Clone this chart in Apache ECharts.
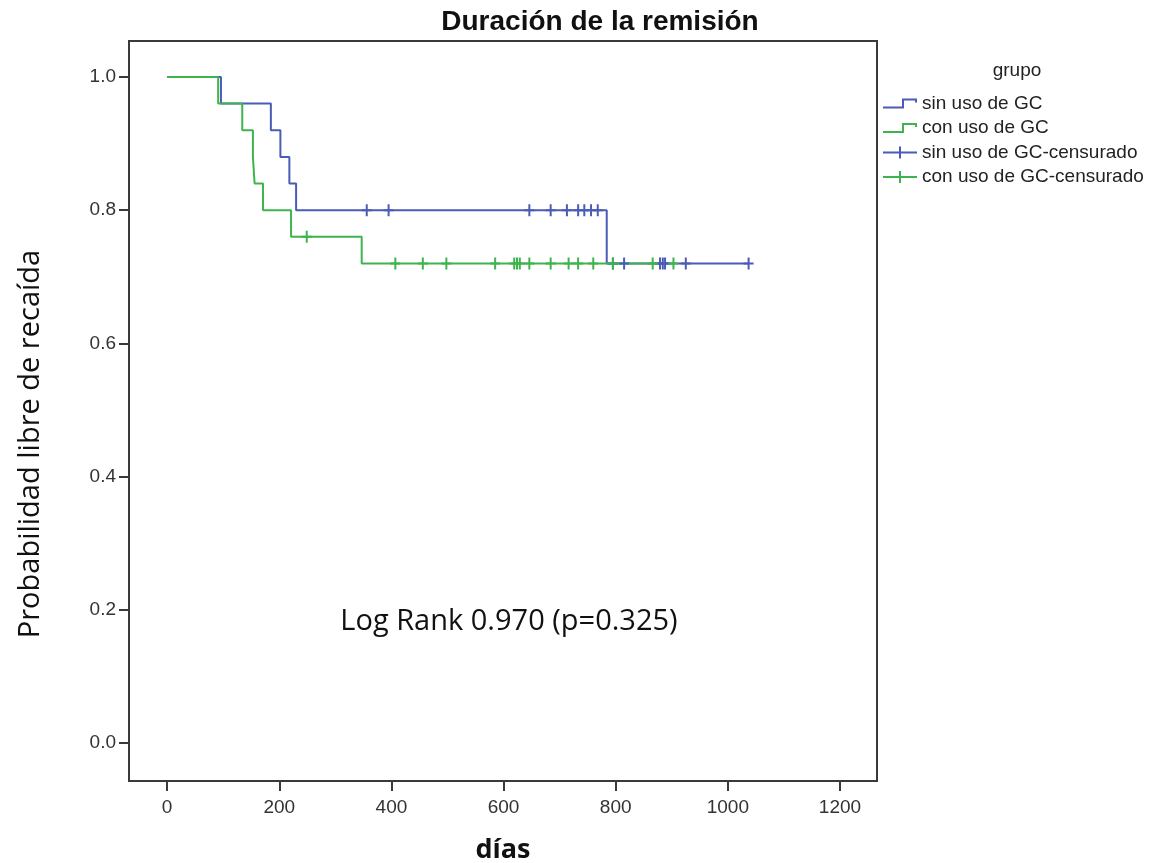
<!DOCTYPE html>
<html>
<head>
<meta charset="utf-8">
<script src="https://cdn.jsdelivr.net/npm/echarts@6/dist/echarts.min.js"></script>
<style>
  html, body { margin: 0; padding: 0; background: #ffffff; }
  #chart { width: 1159px; height: 863px; }
</style>
</head>
<body>
<div id="chart"></div>
<script>
// ---- Data (Kaplan-Meier curves) ----
// "sin uso de GC": event times (days) and survival after each step
const blueTimes = [0, 96, 185, 202, 218, 230, 784, 1037];
const blueSurv  = [1.0, 0.96, 0.92, 0.88, 0.84, 0.80, 0.72, 0.72];
const blueCensored = [356, 395, 646, 684, 713, 733, 744, 756, 768, 795, 815, 879, 884, 888, 925, 1037];

// "con uso de GC"
const greenTimes = [0, 91, 134, 153, 156, 171, 221, 347, 903];
const greenSurv  = [1.0, 0.96, 0.92, 0.88, 0.84, 0.80, 0.76, 0.72, 0.72];
const greenCensored = [249, 407, 456, 498, 585, 619, 624, 629, 646, 684, 716, 733, 760, 795, 866, 903];

const xTicks = [0, 200, 400, 600, 800, 1000, 1200];
const yTicks = [0.0, 0.2, 0.4, 0.6, 0.8, 1.0];

const seriesNames = ['sin uso de GC', 'con uso de GC', 'sin uso de GC-censurado', 'con uso de GC-censurado'];
const chartTitle = 'Duración de la remisión';
const xName = 'días';
const yName = 'Probabilidad libre de recaída';
const legendTitle = 'grupo';
const annotation = 'Log Rank 0.970 (p=0.325)';

// ---- helpers ----
function pairs(ts, ss) { return ts.map((t, i) => [t, ss[i]]); }
function survAt(ts, ss, t) {
  let v = ss[0];
  for (let i = 0; i < ts.length; i++) { if (ts[i] <= t) v = ss[i]; }
  return v;
}
function censorPoints(cs, ts, ss) { return cs.map(t => [t, survAt(ts, ss, t)]); }

const BLUE = '#4B5CB6';
const GREEN = '#3FB44E';
const plusPath = 'path://M0,5 H4 V0 H6 V5 H10 V7 H6 V12 H4 V7 H0 Z';
const stepIcon = 'path://M0,9 H19 V1 H34 V5 H32 V3 H21 V11 H0 Z M0,0 H0.01 V12 H0 Z';
const crossIcon = 'path://M0,5 H16 V0 H18 V5 H34 V7 H18 V12 H16 V7 H0 Z';

const chart = echarts.init(document.getElementById('chart'), null, { renderer: 'canvas' });

const option = {
  backgroundColor: '#ffffff',
  animation: false,
  title: [
    {
      text: chartTitle,
      left: 595, top: 3, textAlign: 'center',
      textStyle: { fontFamily: 'Liberation Sans, Arial, sans-serif', fontWeight: 'bold', fontSize: 28, color: '#111' }
    },
    {
      text: legendTitle,
      left: 1012, top: 56, textAlign: 'center',
      textStyle: { fontFamily: 'Liberation Sans, Arial, sans-serif', fontWeight: 'normal', fontSize: 19, color: '#222' }
    }
  ],
  grid: {
    left: 129, top: 41, width: 748, height: 740,
    containLabel: false, outerBoundsMode: 'none',
    show: true, borderColor: '#3a3a3a', borderWidth: 2, backgroundColor: '#ffffff'
  },
  legend: {
    orient: 'vertical', left: 878, top: 89,
    itemWidth: 34, itemHeight: 12, itemGap: 5.5,
    selectedMode: false,
    itemStyle: { borderWidth: 0, opacity: 1 },
    textStyle: { fontFamily: 'Liberation Sans, Arial, sans-serif', fontSize: 19, color: '#222' },
    data: [
      { name: seriesNames[0], icon: stepIcon },
      { name: seriesNames[1], icon: stepIcon },
      { name: seriesNames[2], icon: crossIcon },
      { name: seriesNames[3], icon: crossIcon }
    ]
  },
  xAxis: {
    type: 'value', min: -68, max: 1266,
    name: xName, nameLocation: 'middle', nameGap: 56,
    nameTextStyle: { fontFamily: 'Open Sans, sans-serif', fontWeight: 'bold', fontSize: 27, color: '#111' },
    axisLine: { show: true, onZero: false, lineStyle: { color: '#3a3a3a', width: 2 } },
    axisTick: { show: true, customValues: xTicks, length: 10, lineStyle: { color: '#3a3a3a', width: 2 } },
    axisLabel: { customValues: xTicks, margin: 17, fontFamily: 'Liberation Sans, Arial, sans-serif', fontSize: 19, color: '#333',
      formatter: v => String(Math.round(v)) },
    splitLine: { show: false }
  },
  yAxis: {
    type: 'value', min: -0.057, max: 1.054,
    name: yName, nameLocation: 'middle', nameGap: 84, nameRotate: 90,
    nameTextStyle: { fontFamily: 'Open Sans, sans-serif', fontSize: 29, color: '#111', padding: [0, 66, 0, 0] },
    axisLine: { show: true, onZero: false, lineStyle: { color: '#3a3a3a', width: 2 } },
    axisTick: { show: true, customValues: yTicks, length: 10, lineStyle: { color: '#3a3a3a', width: 2 } },
    axisLabel: { customValues: yTicks, margin: 13, fontFamily: 'Liberation Sans, Arial, sans-serif', fontSize: 19, color: '#333',
      formatter: v => Number(v).toFixed(1) },
    splitLine: { show: false }
  },
  graphic: [
    {
      type: 'text', x: 509, y: 622, z: 10,
      style: {
        text: annotation,
        fill: '#111',
        font: '29px "Open Sans", sans-serif',
        align: 'center', verticalAlign: 'middle',
        textAlign: 'center', textVerticalAlign: 'middle'
      }
    }
  ],
  series: [
    {
      name: seriesNames[0], type: 'line', step: 'end', color: BLUE,
      showSymbol: false, symbol: 'none',
      lineStyle: { width: 2, color: BLUE },
      data: pairs(blueTimes, blueSurv), z: 2
    },
    {
      name: seriesNames[1], type: 'line', step: 'end', color: GREEN,
      showSymbol: false, symbol: 'none',
      lineStyle: { width: 2, color: GREEN },
      data: pairs(greenTimes, greenSurv), z: 3
    },
    {
      name: seriesNames[2], type: 'scatter', color: BLUE,
      symbol: plusPath, symbolSize: [10, 12],
      itemStyle: { color: BLUE, opacity: 1 },
      data: censorPoints(blueCensored, blueTimes, blueSurv), z: 4
    },
    {
      name: seriesNames[3], type: 'scatter', color: GREEN,
      symbol: plusPath, symbolSize: [10, 12],
      itemStyle: { color: GREEN, opacity: 1 },
      data: censorPoints(greenCensored, greenTimes, greenSurv), z: 5
    }
  ]
};

chart.setOption(option);
</script>
</body>
</html>
